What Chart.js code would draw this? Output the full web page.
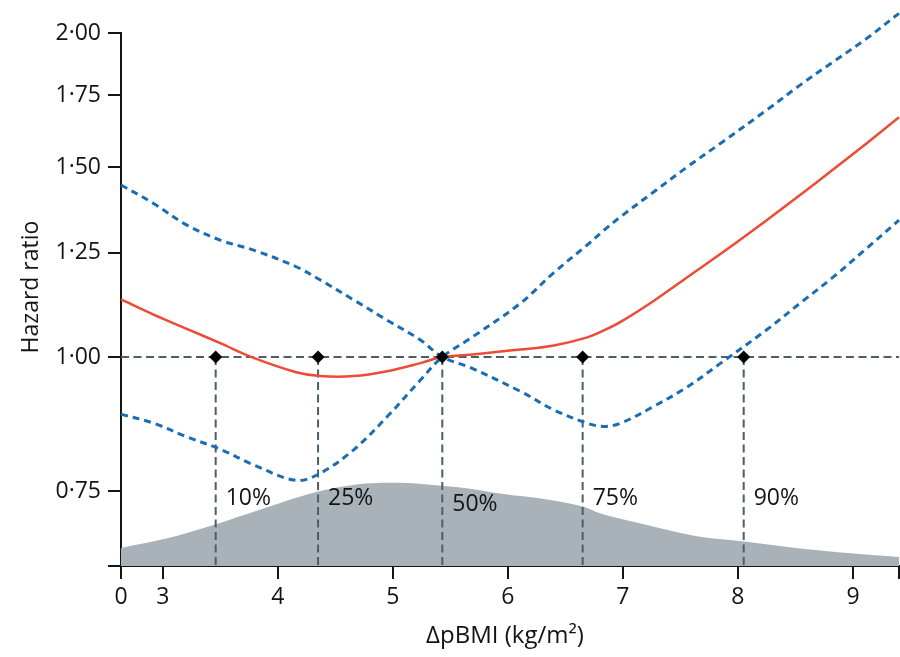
<!DOCTYPE html>
<html>
<head>
<meta charset="utf-8">
<title>Hazard ratio by ΔpBMI</title>
<script src="https://cdn.jsdelivr.net/npm/chart.js@4.4.1/dist/chart.umd.min.js"></script>
<style>
  html, body { margin: 0; padding: 0; background: #ffffff; }
  canvas { display: block; }
</style>
</head>
<body>
<canvas id="chart" width="900" height="657"></canvas>
<script>
// ΔpBMI grid (kg/m²) for the fitted curves
const deltaPBMI = [2.637, 2.92, 3.21, 3.50, 3.79, 4.16, 4.37, 4.66, 4.95, 5.24, 5.43, 5.67, 6.11,
                   6.40, 6.69, 6.83, 6.98, 7.27, 7.56, 7.85, 8.25, 8.54, 8.83, 9.12, 9.40];
// Hazard ratio (solid line)
const hazardRatio = [1.131, 1.095, 1.062, 1.030, 0.998, 0.968, 0.960, 0.960, 0.970, 0.987, 1.000, 1.005, 1.016,
                     1.025, 1.043, 1.058, 1.078, 1.128, 1.186, 1.247, 1.340, 1.414, 1.494, 1.580, 1.670];
// 95% CI limits (dashed lines) – the two bounds swap sides at the reference value
const ciBoundA = [1.445, 1.389, 1.326, 1.284, 1.257, 1.213, 1.179, 1.130, 1.082, 1.037, 1.000, 0.978, 0.929,
                  0.893, 0.868, 0.862, 0.868, 0.900, 0.938, 0.987, 1.060, 1.122, 1.187, 1.262, 1.340];
const ciBoundB = [0.885, 0.868, 0.843, 0.821, 0.794, 0.768, 0.780, 0.820, 0.880, 0.952, 1.000, 1.040, 1.122,
                  1.198, 1.271, 1.310, 1.350, 1.424, 1.502, 1.580, 1.696, 1.789, 1.881, 1.977, 2.086];
// Distribution of ΔpBMI (relative density)
const densityX = [2.637, 3.02, 3.44, 3.85, 4.19, 4.48, 4.77, 5.06, 5.35, 5.64, 5.93, 6.37, 6.66, 6.80,
                  7.09, 7.38, 7.67, 8.05, 8.54, 8.98, 9.40];
const densityY = [3.4, 5.1, 7.7, 10.6, 13.0, 14.6, 15.5, 15.6, 15.2, 14.6, 13.6, 12.4, 11.1, 9.9,
                  8.3, 6.8, 5.5, 4.6, 3.3, 2.4, 1.7];
// Percentiles of ΔpBMI
const percentileX = [3.46, 4.35, 5.43, 6.65, 8.05];
const percentileLabels = ['10%', '25%', '50%', '75%', '90%'];
// Axis ticks
const xTickValues = [3, 4, 5, 6, 7, 8, 9];
const yTickValues = [0.75, 1.00, 1.25, 1.50, 1.75, 2.00];
const X_MIN = 2.637, X_MAX = 9.40;   // left end of the broken axis is labelled 0
const Y_MIN = 0.6395, Y_MAX = 2.0;
const REFERENCE_HR = 1;

const FONT = "'Open Sans', 'Noto Sans', sans-serif";
const FONT_SIZE = 23;
const INK = '#141414';
const RED = '#ee4b36';
const BLUE = '#1a6db3';
const SLATE = '#4b5f67';
const AREA = '#a9b2b9';

// vertical lift of the percentile labels above the x axis (px)
const labelLift = [68, 68, 62, 68, 68];

const pts = (xs, ys) => xs.map((v, i) => ({ x: v, y: ys[i] }));

const curve = (label, data, color, width, dash, order) => ({
  label, data,
  borderColor: color, borderWidth: width, borderDash: dash,
  pointRadius: 0, fill: false, tension: 0.35,
  clip: false, order, yAxisID: 'y'
});

const dropLines = percentileX.map(v => ({
  label: 'drop', data: [{ x: v, y: REFERENCE_HR }, { x: v, y: Y_MIN }],
  borderColor: SLATE, borderWidth: 2, borderDash: [8, 4.5],
  pointRadius: 0, fill: false, order: 3, yAxisID: 'y'
}));

const textLayer = {
  id: 'textLayer',
  afterDatasetsDraw(chart) {
    const { ctx, chartArea, scales: { x } } = chart;
    ctx.save();
    ctx.fillStyle = INK;
    ctx.font = FONT_SIZE + 'px ' + FONT;
    ctx.textBaseline = 'middle';
    ctx.textAlign = 'left';
    percentileLabels.forEach((t, i) => {
      ctx.fillText(t, x.getPixelForValue(percentileX[i]) + 10, chartArea.bottom - labelLift[i]);
    });
    // axis titles
    ctx.textAlign = 'center';
    ctx.font = '24px ' + FONT;
    ctx.fillText('ΔpBMI (kg/m²)', 505, 636);
    ctx.font = FONT_SIZE + 'px ' + FONT;
    ctx.translate(31, 287);
    ctx.rotate(-Math.PI / 2);
    ctx.fillText('Hazard ratio', 0, 0);
    ctx.restore();
  }
};

new Chart(document.getElementById('chart'), {
  type: 'line',
  data: {
    datasets: [
      {
        type: 'scatter', label: 'percentiles',
        data: percentileX.map(v => ({ x: v, y: REFERENCE_HR })),
        pointStyle: 'rectRot', pointRadius: 6.5, pointHoverRadius: 6.5,
        backgroundColor: '#000', borderColor: '#000', borderWidth: 0,
        order: 0, yAxisID: 'y'
      },
      curve('Hazard ratio', pts(deltaPBMI, hazardRatio), RED, 2.5, [], 1),
      curve('95% CI', pts(deltaPBMI, ciBoundA), BLUE, 3, [7, 5], 2),
      curve('95% CI', pts(deltaPBMI, ciBoundB), BLUE, 3, [7, 5], 2),
      {
        label: 'reference', data: [{ x: X_MIN, y: REFERENCE_HR }, { x: X_MAX, y: REFERENCE_HR }],
        borderColor: SLATE, borderWidth: 2, borderDash: [8, 4.5],
        pointRadius: 0, fill: false, order: 3, yAxisID: 'y'
      },
      ...dropLines,
      {
        label: 'distribution', data: pts(densityX, densityY),
        yAxisID: 'y2', fill: 'start', backgroundColor: AREA,
        borderWidth: 0, borderColor: AREA, pointRadius: 0,
        tension: 0.35, order: 10
      }
    ]
  },
  options: {
    responsive: false,
    animation: false,
    events: [],
    layout: { autoPadding: false, padding: { top: 33, right: 1, left: 0, bottom: 0 } },
    plugins: { legend: { display: false }, tooltip: { enabled: false } },
    scales: {
      x: {
        type: 'linear', min: X_MIN, max: X_MAX, bounds: 'data',
        afterBuildTicks: s => {
          s.min = X_MIN; s.max = X_MAX;
          s.ticks = [X_MIN, ...xTickValues, X_MAX].map(v => ({ value: v }));
        },
        afterFit: s => { s.height = 91; s.paddingLeft = 0; s.paddingRight = 0; },
        ticks: {
          callback: v => (v === X_MIN ? '0' : (v === X_MAX ? '' : String(v))),
          font: { family: FONT, size: FONT_SIZE }, color: INK, padding: 5,
          autoSkip: false, maxRotation: 0
        },
        grid: { drawOnChartArea: false, drawTicks: true, tickLength: 13, color: INK, lineWidth: 2 },
        border: { color: INK, width: 2 }
      },
      y: {
        type: 'logarithmic', min: Y_MIN, max: Y_MAX, bounds: 'data',
        afterBuildTicks: s => {
          s.min = Y_MIN; s.max = Y_MAX;
          s.ticks = [Y_MIN, ...yTickValues].map(v => ({ value: v }));
        },
        afterFit: s => { s.width = 121; s.paddingTop = 0; s.paddingBottom = 0; },
        ticks: {
          callback: v => (v === Y_MIN ? '' : v.toFixed(2).replace('.', '·')),
          font: { family: FONT, size: FONT_SIZE }, color: INK, padding: 7,
          autoSkip: false
        },
        grid: { drawOnChartArea: false, drawTicks: true, tickLength: 13, color: INK, lineWidth: 2 },
        border: { color: INK, width: 2 }
      },
      y2: { type: 'linear', display: false, min: 0, max: 100 }
    }
  },
  plugins: [textLayer]
});
</script>
</body>
</html>
